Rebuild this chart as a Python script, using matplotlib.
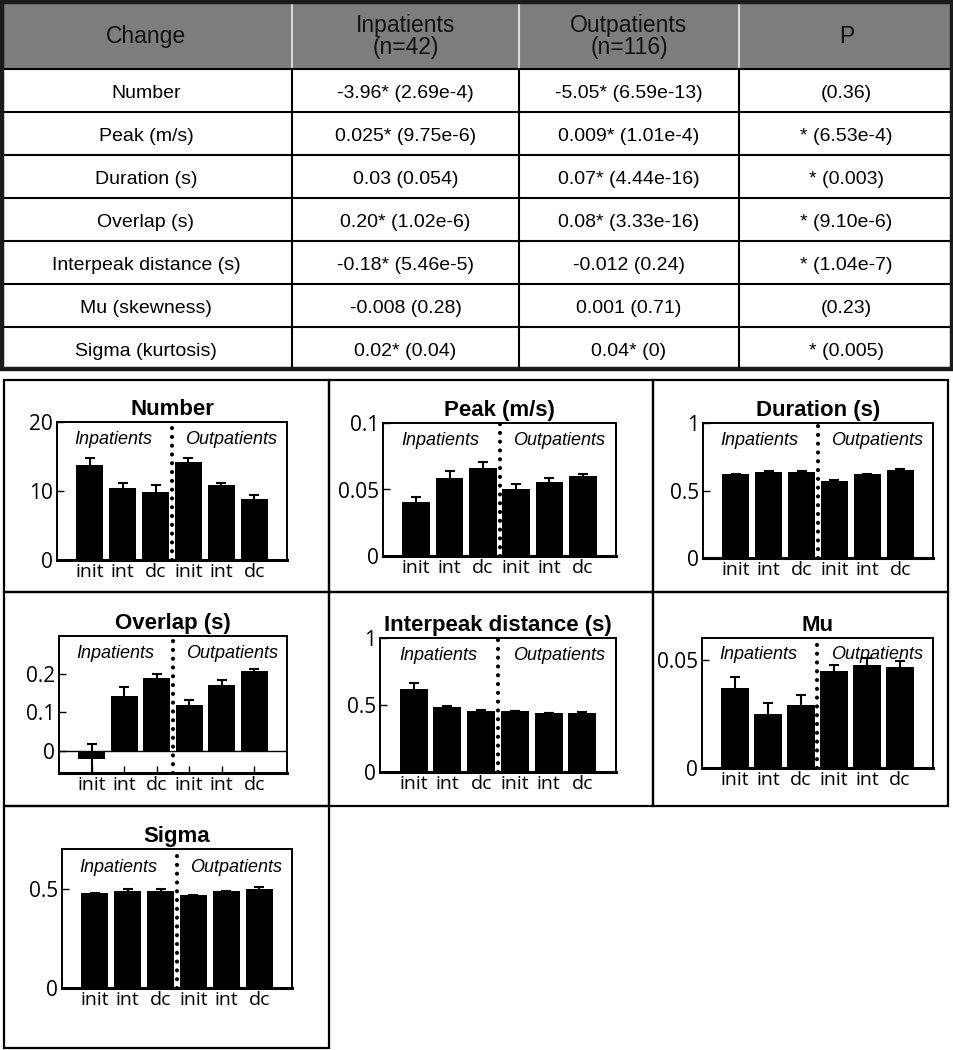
import matplotlib
matplotlib.use("Agg")
import matplotlib.pyplot as plt
from matplotlib.patches import Rectangle
from matplotlib.lines import Line2D

W, H = 954, 1050

# ---------------- table data ----------------
header = ["Change", "Inpatients\n(n=42)", "Outpatients\n(n=116)", "P"]
row_labels = ["Number", "Peak (m/s)", "Duration (s)", "Overlap (s)",
              "Interpeak distance (s)", "Mu (skewness)", "Sigma (kurtosis)"]
inpatient_col = ["-3.96* (2.69e-4)", "0.025* (9.75e-6)", "0.03 (0.054)",
                 "0.20* (1.02e-6)", "-0.18* (5.46e-5)", "-0.008 (0.28)",
                 "0.02* (0.04)"]
outpatient_col = ["-5.05* (6.59e-13)", "0.009* (1.01e-4)", "0.07* (4.44e-16)",
                  "0.08* (3.33e-16)", "-0.012 (0.24)", "0.001 (0.71)",
                  "0.04* (0)"]
p_col = ["(0.36)", "* (6.53e-4)", "* (0.003)", "* (9.10e-6)", "* (1.04e-7)",
         "(0.23)", "* (0.005)"]

# ---------------- bar chart data ----------------
categories = ["init", "int", "dc", "init", "int", "dc"]
group_labels = ["Inpatients", "Outpatients"]

number_vals = [13.8, 10.5, 9.8, 14.2, 10.8, 8.8]
number_err = [1.0, 0.6, 1.0, 0.6, 0.3, 0.6]
peak_vals = [0.0405, 0.059, 0.066, 0.0507, 0.0558, 0.0603]
peak_err = [0.0035, 0.005, 0.0046, 0.0033, 0.0032, 0.0017]
duration_vals = [0.62, 0.64, 0.64, 0.573, 0.62, 0.655]
duration_err = [0.004, 0.006, 0.006, 0.007, 0.003, 0.003]
overlap_vals = [-0.02, 0.142, 0.189, 0.119, 0.172, 0.207]
overlap_err = [0.038, 0.024, 0.011, 0.012, 0.012, 0.006]
interpeak_vals = [0.62, 0.485, 0.457, 0.455, 0.44, 0.44]
interpeak_err = [0.045, 0.01, 0.006, 0.003, 0.003, 0.006]
mu_vals = [0.0369, 0.0249, 0.0291, 0.0451, 0.0478, 0.0469]
mu_err = [0.0054, 0.0051, 0.0046, 0.0026, 0.003, 0.0028]
sigma_vals = [0.478, 0.491, 0.491, 0.468, 0.488, 0.502]
sigma_err = [0.003, 0.008, 0.008, 0.003, 0.003, 0.008]

fig = plt.figure(figsize=(W / 100, H / 100), dpi=100)


def fx(x):
    return x / W


def fy(y):
    return 1 - y / H


# ---------------- table ----------------
col_edges = [0, 292, 519, 739, 954]
row_edges = [0, 69, 112, 155, 198, 241, 284, 327, 369]

fig.patches.append(Rectangle((fx(0), fy(row_edges[1])), 1, row_edges[1] / H,
                             transform=fig.transFigure, facecolor="#7d7d7d",
                             edgecolor="none", zorder=0))
for cx in col_edges[1:-1]:
    fig.lines.append(Line2D([fx(cx), fx(cx)], [fy(0), fy(row_edges[1])],
                            transform=fig.transFigure, color="#d8d8d8", lw=1.5))
    fig.lines.append(Line2D([fx(cx), fx(cx)], [fy(row_edges[1]), fy(row_edges[-1])],
                            transform=fig.transFigure, color="black", lw=1.5))
for ry in row_edges[1:-1]:
    fig.lines.append(Line2D([0, 1], [fy(ry), fy(ry)],
                            transform=fig.transFigure, color="black", lw=1.5))
fig.patches.append(Rectangle((fx(2), fy(row_edges[-1])), (W - 4) / W,
                             (row_edges[-1] - 2) / H, transform=fig.transFigure,
                             facecolor="none", edgecolor="#1a1a1a", lw=3.2,
                             zorder=5))

tfont = "Liberation Sans"
for j, h in enumerate(header):
    cx = (col_edges[j] + col_edges[j + 1]) / 2
    fig.text(fx(cx), fy(row_edges[1] / 2 + 2), h, ha="center", va="center",
             fontsize=16.5, family=tfont, color="#111111", linespacing=0.95)

cols = [row_labels, inpatient_col, outpatient_col, p_col]
for i in range(len(row_labels)):
    cy = (row_edges[i + 1] + row_edges[i + 2]) / 2 + 3
    for j, col in enumerate(cols):
        cx = (col_edges[j] + col_edges[j + 1]) / 2
        fig.text(fx(cx), fy(cy), col[i], ha="center", va="center",
                 fontsize=14, family=tfont, color="black")

# ---------------- panel frames ----------------
frames = [(4, 380, 329, 592), (329, 380, 653, 592), (653, 380, 948, 592),
          (4, 592, 329, 806), (329, 592, 653, 806), (653, 592, 948, 806),
          (4, 806, 329, 1048)]
for (x0, y0, x1, y1) in frames:
    fig.patches.append(Rectangle((fx(x0), fy(y1)), (x1 - x0) / W, (y1 - y0) / H,
                                 transform=fig.transFigure, facecolor="none",
                                 edgecolor="black", lw=1.6, zorder=5))

# ---------------- bar panels ----------------
panels = [
    ("Number", number_vals, number_err, (57, 422, 287, 560), (0, 20),
     [0, 10, 20], ["0", "10", "20"]),
    ("Peak (m/s)", peak_vals, peak_err, (383, 423, 616, 556), (0, 0.1),
     [0, 0.05, 0.1], ["0", "0.05", "0.1"]),
    ("Duration (s)", duration_vals, duration_err, (703, 423, 933, 558), (0, 1),
     [0, 0.5, 1], ["0", "0.5", "1"]),
    ("Overlap (s)", overlap_vals, overlap_err, (59, 636, 287, 773), (-0.057, 0.298),
     [0, 0.1, 0.2], ["0", "0.1", "0.2"]),
    ("Interpeak distance (s)", interpeak_vals, interpeak_err, (380, 638, 616, 772),
     (0, 1), [0, 0.5, 1], ["0", "0.5", "1"]),
    ("Mu", mu_vals, mu_err, (702, 638, 933, 768), (0, 0.0603),
     [0, 0.05], ["0", "0.05"]),
    ("Sigma", sigma_vals, sigma_err, (62, 849, 292, 988), (0, 0.702),
     [0, 0.5], ["0", "0.5"]),
]

tickfont = "Open Sans"
positions = list(range(1, len(categories) + 1))
for title, vals, errs, (x0, y0, x1, y1), ylim, yt, ytl in panels:
    ax = fig.add_axes([fx(x0), fy(y1), (x1 - x0) / W, (y1 - y0) / H])
    ax.bar(positions, vals, width=0.83, color="black", zorder=2)
    ax.errorbar(positions, vals, yerr=errs, fmt="none", ecolor="black",
                elinewidth=1.5, capsize=3.5, capthick=1.5, zorder=3)
    ax.set_xlim(0, 7)
    ax.set_ylim(*ylim)
    if ylim[0] < 0:
        ax.axhline(0, color="black", lw=1.0, zorder=1)
    ax.axvline(3.5, color="black", lw=3.0, linestyle=(0, (0.01, 2.1)),
               dash_capstyle="round", zorder=4)
    ax.set_xticks(positions)
    ax.set_xticklabels(categories, fontsize=14, family=tickfont)
    ax.set_yticks(yt)
    ax.set_yticklabels(ytl, fontsize=15, family=tickfont)
    ax.tick_params(axis="both", direction="in", length=5, width=1.0, pad=3)
    ax.tick_params(axis="x", pad=2)
    for sp in ax.spines.values():
        sp.set_linewidth(1.4)
    ax.spines["bottom"].set_linewidth(2.2)
    ax.set_title(title, fontsize=16, fontweight="bold", family=tfont, pad=5)
    ax.text(1.72, 0.87, group_labels[0], transform=ax.get_xaxis_transform(),
            ha="center", va="center", fontsize=13, style="italic", family=tfont)
    ax.text(5.3, 0.87, group_labels[1], transform=ax.get_xaxis_transform(),
            ha="center", va="center", fontsize=13, style="italic", family=tfont)

fig.savefig("out.png", dpi=100)
